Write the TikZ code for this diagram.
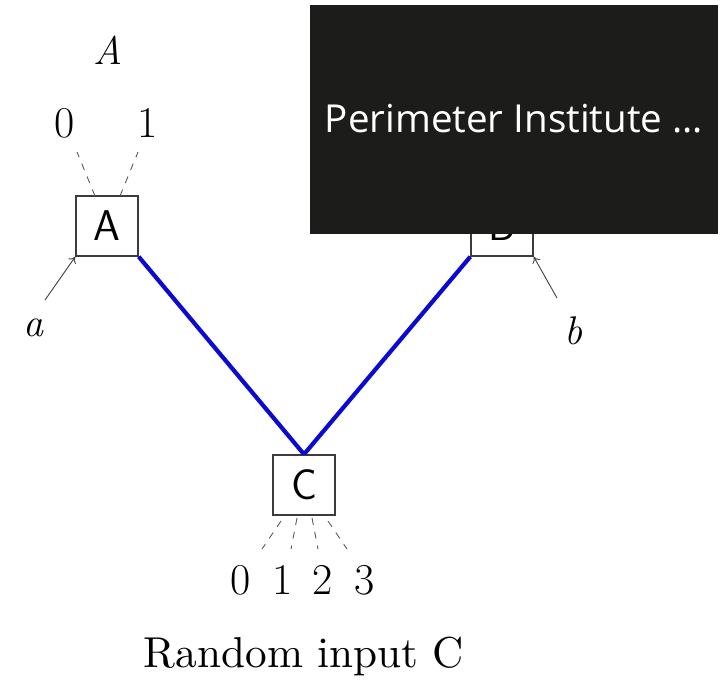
\documentclass[tikz,border=0pt]{standalone}
\usepackage{fontspec}
\usepackage{graphicx}
\newfontfamily\overlayfont{Open Sans}
\usetikzlibrary{arrows.meta}
\definecolor{linkblue}{RGB}{10,10,210}
\definecolor{overlaybg}{RGB}{28,29,27}
\definecolor{boxgray}{RGB}{60,60,60}
\tikzset{
  devbox/.style={draw=boxgray, line width=1.4pt, minimum width=62pt, minimum height=60pt, inner sep=0pt, font=\sffamily\fontsize{43}{45}\selectfont, fill=white},
  lbl/.style={inner sep=0pt, font=\fontsize{44}{46}\selectfont},
  ilbl/.style={inner sep=0pt, font=\fontsize{40}{42}\selectfont\itshape},
  link/.style={draw=linkblue, line width=4.2pt},
  inarrow/.style={draw=black!75, line width=0.9pt, -{To[length=6pt,width=9pt]}},
  outdash/.style={draw=black!65, line width=0.9pt, dash pattern=on 7pt off 7pt}
}
\begin{document}
\begin{tikzpicture}[x=1pt,y=-1pt]
\useasboundingbox (0,0) rectangle (722,686);
% boxes
\node[devbox] (A) at (107,226) {A};
\node[devbox] (B) at (502,226) {B};
\node[devbox] (C) at (304,485) {C};
% links
\draw[link] (A.south east) -- (C.north);
\draw[link] (B.south west) -- (C.north);
% settings
\node[ilbl] (la) at (33,328) {a};
\node[ilbl] (lb) at (573,331) {b};
\coordinate (ta) at (45,300);
\coordinate (tb) at (557,298);
\draw[inarrow] (ta) -- (A.south west);
\draw[inarrow] (tb) -- (B.south east);
% outputs A
\node[ilbl] (titleA) at (108,50) {A};
\node[lbl] (a0) at (65,123) {0};
\node[lbl] (a1) at (148,123) {1};
\coordinate (a0s) at (95,196);
\coordinate (a0e) at (77,152);
\coordinate (a1s) at (120,196);
\coordinate (a1e) at (138,152);
\draw[outdash] (a0s) -- (a0e);
\draw[outdash] (a1s) -- (a1e);
% outputs C
\node[lbl] (c0) at (241,580) {0};
\node[lbl] (c1) at (283,580) {1};
\node[lbl] (c2) at (323,580) {2};
\node[lbl] (c3) at (365,580) {3};
\coordinate (c0s) at (281,521);
\coordinate (c0e) at (262,549);
\coordinate (c1s) at (297,518);
\coordinate (c1e) at (291,549);
\coordinate (c2s) at (312,518);
\coordinate (c2e) at (318,549);
\coordinate (c3s) at (328,521);
\coordinate (c3e) at (347,549);
\draw[outdash] (c0s) -- (c0e);
\draw[outdash] (c1s) -- (c1e);
\draw[outdash] (c2s) -- (c2e);
\draw[outdash] (c3s) -- (c3e);
\node[inner sep=0pt] (cap) at (304,656) {\resizebox{320pt}{!}{Random input C}};
% overlay
\fill[overlaybg] (310,5) rectangle (718,234);
\node[inner sep=0pt, text=white] (ov) at (514,119) {\resizebox{378pt}{!}{\overlayfont Perimeter Institute ...}};
\end{tikzpicture}
\end{document}
